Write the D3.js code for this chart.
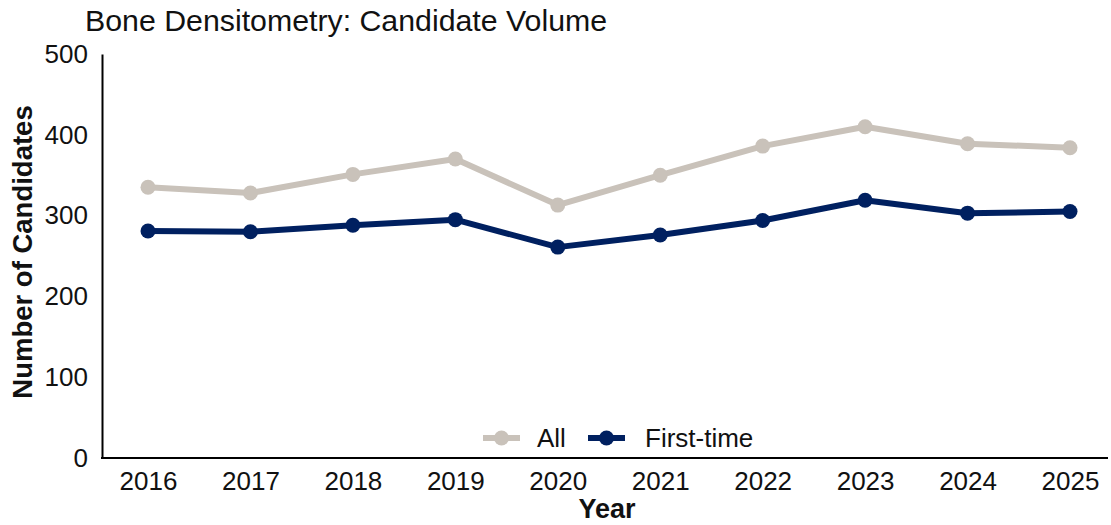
<!DOCTYPE html>
<html>
<head>
<meta charset="utf-8">
<script src="https://cdn.jsdelivr.net/npm/d3@7"></script>
<style>
  html, body { margin: 0; padding: 0; background: #fff; }
  svg { display: block; font-family: "Liberation Sans", Arial, sans-serif; }
</style>
</head>
<body>
<svg id="chart" width="1111" height="525"></svg>
<script>
const years = ["2016", "2017", "2018", "2019", "2020", "2021", "2022", "2023", "2024", "2025"];
const allValues = [335, 328, 351, 370, 313, 350, 386, 410, 389, 384];
const firstTimeValues = [281, 280, 288, 295, 261, 276, 294, 319, 303, 305];
const yTicks = [0, 100, 200, 300, 400, 500];
const seriesNames = ["All", "First-time"];
const seriesColors = ["#c9c2ba", "#002060"];

const svg = d3.select("#chart");
const x = d3.scalePoint().domain(years).range([148, 1070]);
const y = d3.scaleLinear().domain([0, 500]).range([458, 54]);

// Title
svg.append("text").attr("x", 85).attr("y", 31)
  .attr("font-size", 30.3).attr("fill", "#111")
  .text("Bone Densitometry: Candidate Volume");

// Y axis
const yAxis = svg.append("g").attr("transform", "translate(102,0)")
  .call(d3.axisLeft(y).tickValues(yTicks).tickSize(0).tickPadding(14));
yAxis.select(".domain").attr("stroke", "#000").attr("stroke-width", 2);
yAxis.selectAll("text").attr("font-size", 26).attr("fill", "#111")
  .attr("font-family", "Liberation Sans, Arial, sans-serif");

// X axis
const xAxis = svg.append("g").attr("transform", "translate(0,458)")
  .call(d3.axisBottom(x).tickSize(0).tickPadding(14));
xAxis.select(".domain").attr("d", "M101,0H1108").attr("stroke", "#000").attr("stroke-width", 2);
xAxis.selectAll("text").attr("font-size", 26).attr("fill", "#111")
  .attr("font-family", "Liberation Sans, Arial, sans-serif");

// Axis titles
svg.append("text").attr("x", 607).attr("y", 518).attr("text-anchor", "middle")
  .attr("font-size", 27).attr("font-weight", "bold").attr("fill", "#111").text("Year");
svg.append("text").attr("transform", "translate(32,252) rotate(-90)")
  .attr("text-anchor", "middle").attr("font-size", 27.5).attr("font-weight", "bold")
  .attr("fill", "#111").text("Number of Candidates");

// Lines
const series = [allValues, firstTimeValues];
const line = d3.line().x((d, i) => x(years[i])).y(d => y(d));
series.forEach((vals, si) => {
  svg.append("path").datum(vals).attr("d", line)
    .attr("fill", "none").attr("stroke", seriesColors[si])
    .attr("stroke-width", 6).attr("stroke-linejoin", "round");
  svg.selectAll(null).data(vals).enter().append("circle")
    .attr("cx", (d, i) => x(years[i])).attr("cy", d => y(d))
    .attr("r", 7.5).attr("fill", seriesColors[si]);
});

// Legend
const legendY = 438;
const legendItems = [
  { x1: 483, x2: 520, tx: 537 },
  { x1: 588, x2: 625, tx: 645 }
];
legendItems.forEach((it, i) => {
  svg.append("line").attr("x1", it.x1).attr("x2", it.x2).attr("y1", legendY).attr("y2", legendY)
    .attr("stroke", seriesColors[i]).attr("stroke-width", 6);
  svg.append("circle").attr("cx", (it.x1 + it.x2) / 2).attr("cy", legendY).attr("r", 7.5)
    .attr("fill", seriesColors[i]);
  svg.append("text").attr("x", it.tx).attr("y", legendY).attr("dy", "0.35em")
    .attr("font-size", 26).attr("fill", "#111").text(seriesNames[i]);
});
</script>
</body>
</html>
